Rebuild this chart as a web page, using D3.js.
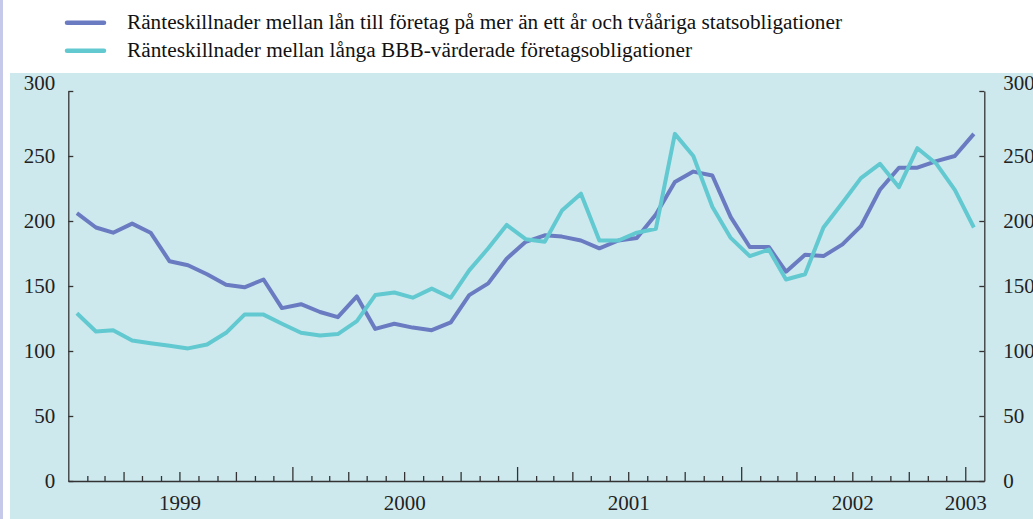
<!DOCTYPE html>
<html>
<head>
<meta charset="utf-8">
<script src="https://cdn.jsdelivr.net/npm/d3@7"></script>
<style>
  body { margin: 0; background: #fff; }
  svg { display: block; font-family: "Liberation Serif", "Times New Roman", serif; }
</style>
</head>
<body>
<div id="chart"></div>
<script>
// monthly observations, Jan 1999 - Jan 2003 (basis points)
var startYear = 1999, startMonth = 0;
var foretagslan = [206, 195, 191, 198, 191, 169, 166, 159, 151, 149, 155, 133,
                   136, 130, 126, 142, 117, 121, 118, 116, 122, 143, 152, 171,
                   184, 189, 188, 185, 179, 185, 187, 205, 230, 238, 235, 203,
                   180, 180, 161, 174, 173, 182, 196, 224, 241, 241, 246, 250, 267];
var bbb = [129, 115, 116, 108, 106, 104, 102, 105, 114, 128, 128, 121,
           114, 112, 113, 123, 143, 145, 141, 148, 141, 162, 179, 197,
           186, 184, 208, 221, 185, 185, 191, 194, 267, 250, 211, 187,
           173, 178, 155, 159, 195, 214, 233, 244, 226, 256, 244, 224, 195];
var seriesNames = ["Ränteskillnader mellan lån till företag på mer än ett år och tvååriga statsobligationer",
                   "Ränteskillnader mellan långa BBB-värderade företagsobligationer"];
var seriesColors = ["#6b7bc2", "#62c9d1"];
var yTicks = [0, 50, 100, 150, 200, 250, 300];
var yearLabels = ["1999", "2000", "2001", "2002", "2003"];

var W = 1033, H = 519;
var svg = d3.select("#chart").append("svg")
    .attr("width", W)
    .attr("height", H);

// left edge strip and chart panel
svg.append("rect").attr("x", 0).attr("y", 0).attr("width", 3).attr("height", H).attr("fill", "#c6c9ea");
svg.append("rect").attr("x", 10).attr("y", 73).attr("width", W - 10).attr("height", H - 73).attr("fill", "#cde9ee");

// scales
var x = d3.scaleTime()
    .domain([new Date(1999, 0, 1), new Date(2003, 1, 1)])
    .range([68.3, 984.3]);
var y = d3.scaleLinear().domain([0, 300]).range([481, 91]);

function monthDate(i) {
    return new Date(startYear, startMonth + i, 15);
}

// x axis with monthly ticks
var months = d3.timeMonth.range(new Date(1999, 1, 1), new Date(2003, 1, 1));
var xAxis = svg.append("g")
    .attr("transform", "translate(0," + y(0) + ")")
    .call(d3.axisBottom(x).tickValues(months).tickFormat("").tickSize(-5).tickSizeOuter(0));
xAxis.selectAll(".tick line")
    .attr("y2", function (d) {
        if (d.getMonth() === 0) return -14;
        if (d.getMonth() % 3 === 0) return -9;
        return -5;
    });

// year labels
svg.append("g")
    .attr("transform", "translate(0," + y(0) + ")")
    .call(d3.axisBottom(x)
        .tickValues([new Date(1999, 6, 1), new Date(2000, 6, 1), new Date(2001, 6, 1), new Date(2002, 6, 1), new Date(2003, 0, 1)])
        .tickFormat(function (d, i) { return yearLabels[i]; })
        .tickSize(0).tickPadding(14))
    .call(function (g) { g.select(".domain").remove(); });

// y axes
var yLeft = svg.append("g")
    .attr("transform", "translate(" + x.range()[0] + ",0)")
    .call(d3.axisLeft(y).tickValues(yTicks).tickSize(-5).tickSizeOuter(0).tickPadding(13));
var yRight = svg.append("g")
    .attr("transform", "translate(" + x.range()[1] + ",0)")
    .call(d3.axisRight(y).tickValues(yTicks).tickSize(-5).tickSizeOuter(0).tickPadding(19));

[xAxis, yLeft, yRight].forEach(function (g) {
    g.selectAll(".domain").attr("stroke", "#333").attr("stroke-width", 1.3);
    g.selectAll(".tick line").attr("stroke", "#333").attr("stroke-width", 1.3);
});
svg.selectAll(".tick text").attr("font-size", 21).attr("fill", "#222")
    .attr("font-family", "Liberation Serif, Times New Roman, serif");
// the top labels sit a little above their ticks
svg.selectAll(".tick text").filter(function (d) { return d === 300; }).attr("dy", "-0.08em");

// lines
var line = d3.line()
    .x(function (d, i) { return x(monthDate(i)); })
    .y(function (d) { return y(d); });

[foretagslan, bbb].forEach(function (s, k) {
    svg.append("path")
        .datum(s)
        .attr("fill", "none")
        .attr("stroke", seriesColors[k])
        .attr("stroke-width", 4)
        .attr("stroke-linejoin", "round")
        .attr("d", line);
});

// legend
var legendWidths = [715, 565];
var legend = svg.append("g");
seriesNames.forEach(function (name, k) {
    var ly = 22.7 + k * 28;
    legend.append("line")
        .attr("x1", 67).attr("x2", 104)
        .attr("y1", ly).attr("y2", ly)
        .attr("stroke", seriesColors[k])
        .attr("stroke-width", 4.5)
        .attr("stroke-linecap", "round");
    legend.append("text")
        .attr("x", 127)
        .attr("y", ly + 6)
        .attr("font-size", 20)
        .attr("textLength", legendWidths[k])
        .attr("lengthAdjust", "spacingAndGlyphs")
        .attr("fill", "#111")
        .text(name);
});
</script>
</body>
</html>
